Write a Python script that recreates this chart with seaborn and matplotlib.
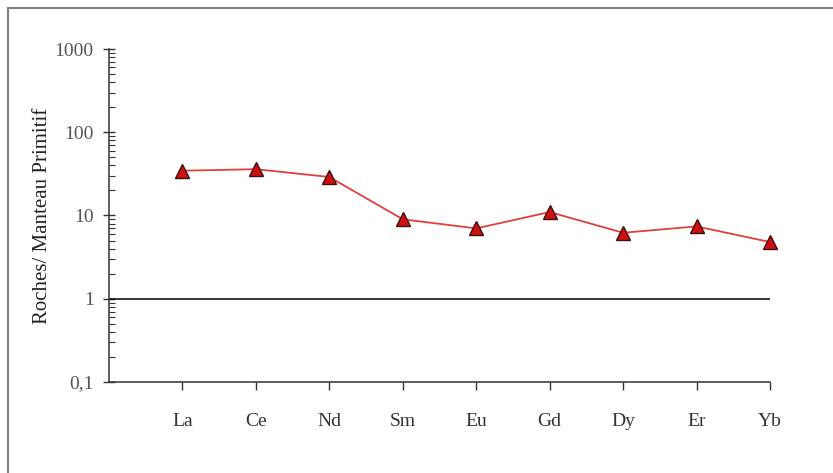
import numpy as np
import pandas as pd
import matplotlib
matplotlib.use("Agg")
import matplotlib.pyplot as plt
from matplotlib.patches import Rectangle
import seaborn as sns

# Spider diagram values (normalised to primitive mantle)
elements = ["La", "Ce", "Nd", "Sm", "Eu", "Gd", "Dy", "Er", "Yb"]
ratios = [34.5, 36.0, 29.0, 9.0, 7.0, 11.0, 6.2, 7.4, 4.8]
y_ticks = [0.1, 1, 10, 100, 1000]
y_tick_labels = ["0,1", "1", "10", "100", "1000"]

df = pd.DataFrame({"element": elements, "ratio": ratios})

sns.set_theme(style="white")
plt.rcParams["font.family"] = ["Liberation Serif", "DejaVu Serif"]

fig = plt.figure(figsize=(8.33, 4.73), dpi=100)
ax = fig.add_axes([0.1309, 0.1924, 0.7935, 0.704])

# outer chart frame (cut off at right and bottom like the original)
fig.patches.append(Rectangle((8 / 833, -0.1), 1.2, 1 - 8 / 473 + 0.1,
                             transform=fig.transFigure, fill=False,
                             edgecolor="#808080", linewidth=1.5))

sns.lineplot(data=df, x="element", y="ratio", ax=ax, color="#e0403a",
             linewidth=1.3, marker="^", markersize=10,
             markerfacecolor="#d01010", markeredgecolor="#3a1010",
             markeredgewidth=1.0, sort=False, clip_on=False, zorder=5)

ax.axhline(1, color="black", linewidth=1.1)

ax.set_yscale("log")
ax.set_ylim(0.1, 1000)
ax.set_xlim(-1, 8)
ax.set_yticks(y_ticks)
ax.set_yticklabels(y_tick_labels)
ax.set_xticks(range(len(elements)))
ax.set_xticklabels(elements)
ax.set_xlabel("")
ax.set_ylabel("Roches/ Manteau Primitif", fontsize=15, color="#222222")
ax.yaxis.set_label_coords(-0.087, 0.5)

for side in ["top", "right"]:
    ax.spines[side].set_visible(False)
for side in ["left", "bottom"]:
    ax.spines[side].set_color("#333333")
    ax.spines[side].set_linewidth(1.1)

ax.tick_params(axis="y", which="major", direction="inout", length=8,
               width=1, color="#333333", labelsize=14, labelcolor="#555555",
               pad=7, left=True)
ax.tick_params(axis="y", which="minor", direction="in", length=4,
               width=0.8, color="#333333", left=True)
ax.tick_params(axis="x", which="major", direction="out", length=6,
               width=1, color="#333333", labelsize=14, labelcolor="#333333",
               pad=16, bottom=True)

fig.savefig("out.png", dpi=100)
